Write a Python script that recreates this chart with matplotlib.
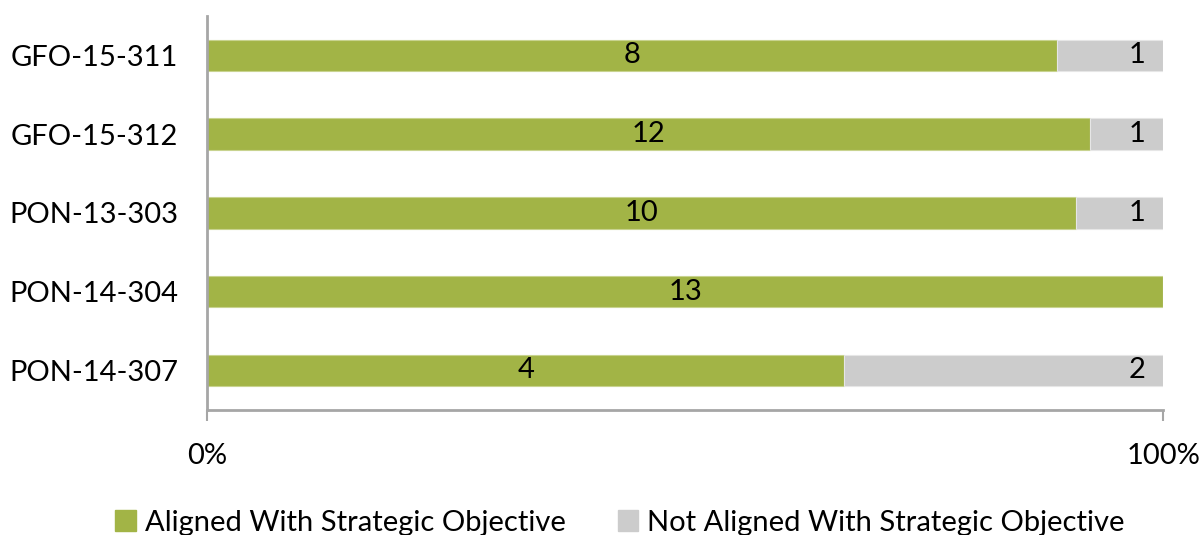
import matplotlib.pyplot as plt
from matplotlib.patches import Patch

# projects and counts of objectives per project
projects = ["GFO-15-311", "GFO-15-312", "PON-13-303", "PON-14-304", "PON-14-307"]
aligned = [8, 12, 10, 13, 4]
not_aligned = [1, 1, 1, 0, 2]

green = "#A2B446"
grey = "#CCCCCC"
axis_grey = "#A6A6A6"

plt.rcParams['font.family'] = ['Lato', 'DejaVu Sans']

fig = plt.figure(figsize=(12.04, 5.35), dpi=100)
ax = fig.add_axes([0.172, 0.234, 0.794, 0.736])

ypos = list(range(len(projects)))
totals = [a + n for a, n in zip(aligned, not_aligned)]
share_a = [a / t for a, t in zip(aligned, totals)]
share_n = [n / t for n, t in zip(not_aligned, totals)]

ax.barh(ypos, share_a, height=0.4, color=green, edgecolor="#C8D38F", linewidth=0.8)
ax.barh(ypos, share_n, left=share_a, height=0.4, color=grey, edgecolor="#E6E6E6", linewidth=0.8)

for y, a, n, sa in zip(ypos, aligned, not_aligned, share_a):
    ax.text(sa / 2, y, str(a), ha="center", va="center", fontsize=21, color="black")
    if n > 0:
        ax.text(0.982, y, str(n), ha="right", va="center", fontsize=21, color="black")

ax.set_xlim(0, 1)
ax.set_ylim(len(projects) - 0.5, -0.5)
ax.set_yticks(ypos)
ax.set_yticklabels(projects, fontsize=21)
ax.tick_params(axis="y", length=0, pad=21)
ax.set_xticks([0, 1])
ax.set_xticklabels(["0%", "100%"], fontsize=21)
ax.tick_params(axis="x", length=8, color=axis_grey, width=1.5, pad=16)

for side in ["top", "right"]:
    ax.spines[side].set_visible(False)
for side in ["left", "bottom"]:
    ax.spines[side].set_color(axis_grey)
    ax.spines[side].set_linewidth(2)

handles = [Patch(color=green, label="Aligned With Strategic Objective"),
           Patch(color=grey, label="Not Aligned With Strategic Objective")]
fig.legend(handles=handles, loc="lower center", bbox_to_anchor=(0.515, -0.05), ncol=2,
           frameon=False, fontsize=21, handlelength=0.7, handleheight=0.7,
           handletextpad=0.3, columnspacing=1.8)

fig.savefig("out.png", dpi=100)
